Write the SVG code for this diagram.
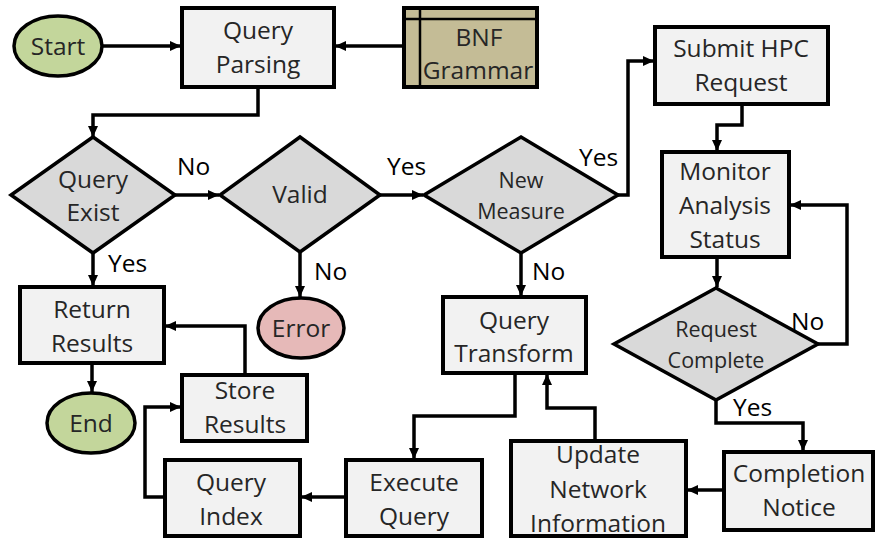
<svg xmlns="http://www.w3.org/2000/svg" width="877" height="539" viewBox="0 0 877 539">
  <style>
    .box { fill: #f2f2f2; stroke: #000; stroke-width: 4; }
    .dec { fill: #d9d9d9; stroke: #000; stroke-width: 3.5; stroke-linejoin: miter; }
    .term { fill: #c3d69b; stroke: #000; stroke-width: 3.5; }
    .err { fill: #e6b9b8; stroke: #000; stroke-width: 3.5; }
    .data { fill: #c4bc96; stroke: #000; stroke-width: 4; }
    .ln { fill: none; stroke: #000; stroke-width: 2.5; }
    text { font-family: "Open Sans", "Liberation Sans", sans-serif; font-size: 24.5px; fill: #262626; text-anchor: middle; }
    text.sm { font-size: 21.5px; }
    text.lbl { text-anchor: start; fill: #000; }
    .edge { fill: none; stroke: #000; stroke-width: 3.5; marker-end: url(#arrow); }
  </style>
  <defs>
    <marker id="arrow" markerUnits="userSpaceOnUse" markerWidth="12" markerHeight="12" refX="11" refY="6" orient="auto">
      <path d="M0,1 L11,6 L0,11 Z" fill="#000"/>
    </marker>
  </defs>

  <rect width="877" height="539" fill="#fff"/>

  <!-- connectors -->
  <g id="connectors">
    <path class="edge" d="M103,46 H181"/>
    <path class="edge" d="M404,46 H335"/>
    <path class="edge" d="M258,87 V115 H93 V137"/>
    <path class="edge" d="M175,195 H219"/>
    <path class="edge" d="M380,195 H423"/>
    <path class="edge" d="M618,195 H628 V61 H654"/>
    <path class="edge" d="M742,104 V125 H717 V151"/>
    <path class="edge" d="M717,257 V287"/>
    <path class="edge" d="M818,344 H847 V205 H790"/>
    <path class="edge" d="M716,400 V423 H803 V451"/>
    <path class="edge" d="M724,490 H687"/>
    <path class="edge" d="M595,440 V408 H547 V374"/>
    <path class="edge" d="M521,253 V296"/>
    <path class="edge" d="M515,373 V416 H414 V459"/>
    <path class="edge" d="M346,497 H301"/>
    <path class="edge" d="M165,497 H145 V407 H181"/>
    <path class="edge" d="M245,375 V326 H165"/>
    <path class="edge" d="M93,253 V286"/>
    <path class="edge" d="M92,363 V392"/>
    <path class="edge" d="M300,252 V297"/>
  </g>

  <!-- edge labels -->
  <g id="labels">
    <text class="lbl" x="177" y="175">No</text>
    <text class="lbl" x="387" y="175">Yes</text>
    <text class="lbl" x="579" y="166">Yes</text>
    <text class="lbl" x="108" y="272">Yes</text>
    <text class="lbl" x="314" y="280">No</text>
    <text class="lbl" x="532" y="280">No</text>
    <text class="lbl" x="791" y="330">No</text>
    <text class="lbl" x="733" y="416">Yes</text>
  </g>

  <g id="start">
    <ellipse class="term" cx="58" cy="46" rx="44" ry="30"/>
    <text x="58" y="55">Start</text>
  </g>

  <g id="query-parsing">
    <rect class="box" x="182" y="8" width="152" height="79"/>
    <text x="258" y="39">Query</text>
    <text x="258" y="73">Parsing</text>
  </g>

  <g id="bnf-grammar">
    <rect class="data" x="404" y="8" width="133" height="79"/>
    <line class="ln" x1="404" y1="19" x2="537" y2="19"/>
    <line class="ln" x1="420" y1="8" x2="420" y2="87"/>
    <text x="479" y="46">BNF</text>
    <text x="478" y="79">Grammar</text>
  </g>

  <g id="query-exist">
    <polygon class="dec" points="93,137 175,195 93,253 11,195"/>
    <text x="93" y="188">Query</text>
    <text x="93" y="221">Exist</text>
  </g>

  <g id="valid">
    <polygon class="dec" points="300,137 380,195 300,252 220,195"/>
    <text x="300" y="203">Valid</text>
  </g>

  <g id="new-measure">
    <polygon class="dec" points="521,137 618,195 521,253 424,195"/>
    <text class="sm" x="521" y="188">New</text>
    <text class="sm" x="521" y="219">Measure</text>
  </g>

  <g id="submit-hpc">
    <rect class="box" x="655" y="27" width="173" height="77"/>
    <text x="741" y="57">Submit HPC</text>
    <text x="741" y="91">Request</text>
  </g>

  <g id="monitor">
    <rect class="box" x="662" y="152" width="127" height="105"/>
    <text x="725" y="180">Monitor</text>
    <text x="725" y="214">Analysis</text>
    <text x="725" y="248">Status</text>
  </g>

  <g id="request-complete">
    <polygon class="dec" points="716,288 818,344 716,400 614,344"/>
    <text class="sm" x="716" y="337">Request</text>
    <text class="sm" x="716" y="368">Complete</text>
  </g>

  <g id="completion-notice">
    <rect class="box" x="724" y="452" width="149" height="78"/>
    <text x="799" y="482">Completion</text>
    <text x="799" y="516">Notice</text>
  </g>

  <g id="update-network">
    <rect class="box" x="511" y="441" width="175" height="95"/>
    <text x="598" y="463">Update</text>
    <text x="598" y="498">Network</text>
    <text x="598" y="532">Information</text>
  </g>

  <g id="query-transform">
    <rect class="box" x="443" y="297" width="143" height="76"/>
    <text x="514" y="329">Query</text>
    <text x="514" y="362">Transform</text>
  </g>

  <g id="execute-query">
    <rect class="box" x="346" y="460" width="136" height="76"/>
    <text x="414" y="491">Execute</text>
    <text x="414" y="525">Query</text>
  </g>

  <g id="query-index">
    <rect class="box" x="165" y="460" width="135" height="76"/>
    <text x="231" y="491">Query</text>
    <text x="231" y="525">Index</text>
  </g>

  <g id="store-results">
    <rect class="box" x="182" y="375" width="125" height="66"/>
    <text x="245" y="399">Store</text>
    <text x="245" y="433">Results</text>
  </g>

  <g id="return-results">
    <rect class="box" x="20" y="287" width="144" height="76"/>
    <text x="92" y="318">Return</text>
    <text x="92" y="352">Results</text>
  </g>

  <g id="error">
    <ellipse class="err" cx="301" cy="328" rx="43" ry="30"/>
    <text x="301" y="337">Error</text>
  </g>

  <g id="end">
    <ellipse class="term" cx="91" cy="423" rx="44" ry="30"/>
    <text x="91" y="432">End</text>
  </g>
</svg>
